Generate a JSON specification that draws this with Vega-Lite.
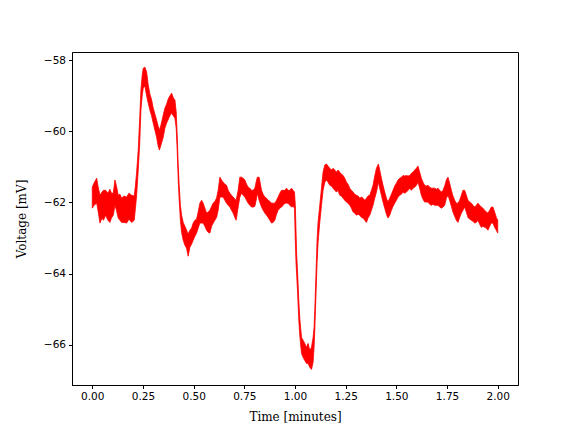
{
  "$schema": "https://vega.github.io/schema/vega-lite/v6.json",
  "width": 446,
  "height": 333,
  "autosize": {"type": "none"},
  "padding": {"left": 72, "top": 52, "right": 58, "bottom": 47},
  "background": "white",
  "config": {
    "view": {"stroke": "black", "strokeWidth": 1},
    "axis": {
      "grid": false,
      "domainColor": "black",
      "tickColor": "black",
      "tickSize": 3.5,
      "labelFont": "DejaVu Sans",
      "labelFontSize": 10.5,
      "labelColor": "black",
      "labelPadding": 3,
      "titleFont": "DejaVu Serif",
      "titleFontSize": 12,
      "titleFontWeight": "normal",
      "titleColor": "black"
    }
  },
  "data": {
    "values": [
      {"t":0.0000,"hi":-61.57,"lo":-62.16},
      {"t":0.0084,"hi":-61.46,"lo":-62.08},
      {"t":0.0217,"hi":-61.32,"lo":-62.02},
      {"t":0.0281,"hi":-61.54,"lo":-62.22},
      {"t":0.0380,"hi":-61.80,"lo":-62.58},
      {"t":0.0478,"hi":-61.71,"lo":-62.44},
      {"t":0.0552,"hi":-61.66,"lo":-62.50},
      {"t":0.0660,"hi":-61.66,"lo":-62.36},
      {"t":0.0774,"hi":-61.74,"lo":-62.50},
      {"t":0.0872,"hi":-61.63,"lo":-62.56},
      {"t":0.0946,"hi":-61.74,"lo":-62.44},
      {"t":0.1035,"hi":-61.74,"lo":-62.36},
      {"t":0.1119,"hi":-61.37,"lo":-62.08},
      {"t":0.1193,"hi":-61.54,"lo":-62.22},
      {"t":0.1281,"hi":-61.80,"lo":-62.44},
      {"t":0.1365,"hi":-61.77,"lo":-62.50},
      {"t":0.1449,"hi":-61.88,"lo":-62.56},
      {"t":0.1562,"hi":-61.82,"lo":-62.56},
      {"t":0.1695,"hi":-61.85,"lo":-62.58},
      {"t":0.1809,"hi":-61.74,"lo":-62.47},
      {"t":0.1942,"hi":-61.80,"lo":-62.56},
      {"t":0.2070,"hi":-61.82,"lo":-62.50},
      {"t":0.2129,"hi":-61.52,"lo":-62.16},
      {"t":0.2188,"hi":-61.15,"lo":-61.80},
      {"t":0.2267,"hi":-60.53,"lo":-61.09},
      {"t":0.2336,"hi":-59.69,"lo":-60.39},
      {"t":0.2400,"hi":-58.84,"lo":-59.41},
      {"t":0.2464,"hi":-58.42,"lo":-58.98},
      {"t":0.2514,"hi":-58.23,"lo":-58.79},
      {"t":0.2597,"hi":-58.20,"lo":-58.73},
      {"t":0.2681,"hi":-58.34,"lo":-59.01},
      {"t":0.2760,"hi":-58.70,"lo":-59.21},
      {"t":0.2844,"hi":-58.96,"lo":-59.41},
      {"t":0.2928,"hi":-59.12,"lo":-59.57},
      {"t":0.3006,"hi":-59.35,"lo":-59.77},
      {"t":0.3090,"hi":-59.52,"lo":-59.97},
      {"t":0.3174,"hi":-59.69,"lo":-60.17},
      {"t":0.3253,"hi":-59.86,"lo":-60.42},
      {"t":0.3312,"hi":-59.97,"lo":-60.53},
      {"t":0.3386,"hi":-59.83,"lo":-60.39},
      {"t":0.3499,"hi":-59.55,"lo":-60.17},
      {"t":0.3583,"hi":-59.35,"lo":-59.91},
      {"t":0.3667,"hi":-59.24,"lo":-59.77},
      {"t":0.3731,"hi":-59.12,"lo":-59.69},
      {"t":0.3795,"hi":-59.04,"lo":-59.60},
      {"t":0.3913,"hi":-58.93,"lo":-59.49},
      {"t":0.4002,"hi":-59.07,"lo":-59.57},
      {"t":0.4076,"hi":-59.12,"lo":-59.63},
      {"t":0.4140,"hi":-59.46,"lo":-59.91},
      {"t":0.4189,"hi":-60.11,"lo":-60.53},
      {"t":0.4239,"hi":-60.95,"lo":-61.37},
      {"t":0.4288,"hi":-61.52,"lo":-61.94},
      {"t":0.4347,"hi":-62.08,"lo":-62.50},
      {"t":0.4406,"hi":-62.36,"lo":-62.84},
      {"t":0.4485,"hi":-62.56,"lo":-63.06},
      {"t":0.4569,"hi":-62.67,"lo":-63.20},
      {"t":0.4653,"hi":-62.78,"lo":-63.29},
      {"t":0.4731,"hi":-62.89,"lo":-63.51},
      {"t":0.4815,"hi":-62.78,"lo":-63.26},
      {"t":0.4899,"hi":-62.72,"lo":-63.17},
      {"t":0.4978,"hi":-62.58,"lo":-63.06},
      {"t":0.5062,"hi":-62.50,"lo":-62.95},
      {"t":0.5145,"hi":-62.47,"lo":-62.86},
      {"t":0.5224,"hi":-62.27,"lo":-62.72},
      {"t":0.5308,"hi":-62.02,"lo":-62.58},
      {"t":0.5392,"hi":-61.94,"lo":-62.58},
      {"t":0.5471,"hi":-62.02,"lo":-62.58},
      {"t":0.5554,"hi":-62.16,"lo":-62.67},
      {"t":0.5638,"hi":-62.30,"lo":-62.78},
      {"t":0.5717,"hi":-62.27,"lo":-62.84},
      {"t":0.5801,"hi":-62.22,"lo":-62.86},
      {"t":0.5885,"hi":-62.11,"lo":-62.67},
      {"t":0.5963,"hi":-62.02,"lo":-62.58},
      {"t":0.6047,"hi":-61.97,"lo":-62.50},
      {"t":0.6131,"hi":-61.88,"lo":-62.42},
      {"t":0.6210,"hi":-61.66,"lo":-62.22},
      {"t":0.6294,"hi":-61.29,"lo":-61.85},
      {"t":0.6377,"hi":-61.37,"lo":-61.85},
      {"t":0.6456,"hi":-61.43,"lo":-61.85},
      {"t":0.6540,"hi":-61.49,"lo":-61.94},
      {"t":0.6624,"hi":-61.52,"lo":-62.02},
      {"t":0.6703,"hi":-61.66,"lo":-62.08},
      {"t":0.6787,"hi":-61.74,"lo":-62.13},
      {"t":0.6870,"hi":-61.80,"lo":-62.22},
      {"t":0.6949,"hi":-61.85,"lo":-62.30},
      {"t":0.7033,"hi":-61.91,"lo":-62.42},
      {"t":0.7097,"hi":-61.94,"lo":-62.50},
      {"t":0.7196,"hi":-61.66,"lo":-62.13},
      {"t":0.7279,"hi":-61.29,"lo":-61.85},
      {"t":0.7363,"hi":-61.29,"lo":-61.74},
      {"t":0.7442,"hi":-61.32,"lo":-61.80},
      {"t":0.7526,"hi":-61.37,"lo":-61.85},
      {"t":0.7610,"hi":-61.49,"lo":-61.94},
      {"t":0.7688,"hi":-61.57,"lo":-62.02},
      {"t":0.7772,"hi":-61.60,"lo":-62.08},
      {"t":0.7856,"hi":-61.66,"lo":-62.13},
      {"t":0.7935,"hi":-61.66,"lo":-62.13},
      {"t":0.8019,"hi":-61.60,"lo":-62.11},
      {"t":0.8083,"hi":-61.43,"lo":-61.94},
      {"t":0.8142,"hi":-61.29,"lo":-61.74},
      {"t":0.8231,"hi":-61.29,"lo":-61.94},
      {"t":0.8349,"hi":-61.66,"lo":-62.13},
      {"t":0.8428,"hi":-61.77,"lo":-62.22},
      {"t":0.8512,"hi":-61.85,"lo":-62.30},
      {"t":0.8595,"hi":-61.88,"lo":-62.36},
      {"t":0.8674,"hi":-61.94,"lo":-62.42},
      {"t":0.8758,"hi":-61.97,"lo":-62.50},
      {"t":0.8842,"hi":-62.02,"lo":-62.58},
      {"t":0.8921,"hi":-62.02,"lo":-62.56},
      {"t":0.9004,"hi":-62.02,"lo":-62.50},
      {"t":0.9088,"hi":-61.94,"lo":-62.33},
      {"t":0.9167,"hi":-61.85,"lo":-62.22},
      {"t":0.9251,"hi":-61.74,"lo":-62.16},
      {"t":0.9335,"hi":-61.66,"lo":-62.13},
      {"t":0.9413,"hi":-61.66,"lo":-62.08},
      {"t":0.9497,"hi":-61.66,"lo":-62.02},
      {"t":0.9581,"hi":-61.60,"lo":-62.02},
      {"t":0.9660,"hi":-61.66,"lo":-62.02},
      {"t":0.9744,"hi":-61.66,"lo":-62.08},
      {"t":0.9828,"hi":-61.60,"lo":-62.13},
      {"t":0.9906,"hi":-61.66,"lo":-62.11},
      {"t":0.9975,"hi":-61.71,"lo":-62.16},
      {"t":1.0015,"hi":-62.08,"lo":-63.06},
      {"t":1.0049,"hi":-62.78,"lo":-63.68},
      {"t":1.0084,"hi":-63.48,"lo":-64.05},
      {"t":1.0123,"hi":-63.91,"lo":-64.47},
      {"t":1.0187,"hi":-64.75,"lo":-65.31},
      {"t":1.0236,"hi":-65.25,"lo":-65.73},
      {"t":1.0320,"hi":-65.79,"lo":-66.24},
      {"t":1.0399,"hi":-65.87,"lo":-66.35},
      {"t":1.0482,"hi":-65.96,"lo":-66.44},
      {"t":1.0566,"hi":-66.07,"lo":-66.52},
      {"t":1.0645,"hi":-65.96,"lo":-66.52},
      {"t":1.0729,"hi":-66.15,"lo":-66.63},
      {"t":1.0813,"hi":-66.07,"lo":-66.69},
      {"t":1.0892,"hi":-65.79,"lo":-66.49},
      {"t":1.0941,"hi":-65.51,"lo":-66.07},
      {"t":1.0976,"hi":-65.03,"lo":-65.59},
      {"t":1.1025,"hi":-64.19,"lo":-64.75},
      {"t":1.1089,"hi":-63.06,"lo":-63.71},
      {"t":1.1138,"hi":-62.56,"lo":-63.12},
      {"t":1.1222,"hi":-62.08,"lo":-62.56},
      {"t":1.1306,"hi":-61.60,"lo":-62.08},
      {"t":1.1385,"hi":-61.15,"lo":-61.66},
      {"t":1.1469,"hi":-60.95,"lo":-61.43},
      {"t":1.1552,"hi":-60.92,"lo":-61.37},
      {"t":1.1631,"hi":-60.98,"lo":-61.43},
      {"t":1.1715,"hi":-61.04,"lo":-61.52},
      {"t":1.1799,"hi":-61.09,"lo":-61.54},
      {"t":1.1878,"hi":-61.04,"lo":-61.60},
      {"t":1.1962,"hi":-61.09,"lo":-61.66},
      {"t":1.2045,"hi":-61.15,"lo":-61.71},
      {"t":1.2124,"hi":-61.09,"lo":-61.66},
      {"t":1.2208,"hi":-61.15,"lo":-61.80},
      {"t":1.2292,"hi":-61.21,"lo":-61.82},
      {"t":1.2371,"hi":-61.24,"lo":-61.88},
      {"t":1.2454,"hi":-61.32,"lo":-61.94},
      {"t":1.2538,"hi":-61.43,"lo":-61.99},
      {"t":1.2617,"hi":-61.49,"lo":-62.02},
      {"t":1.2701,"hi":-61.60,"lo":-62.08},
      {"t":1.2785,"hi":-61.66,"lo":-62.16},
      {"t":1.2864,"hi":-61.71,"lo":-62.27},
      {"t":1.2947,"hi":-61.77,"lo":-62.30},
      {"t":1.3031,"hi":-61.80,"lo":-62.36},
      {"t":1.3110,"hi":-61.82,"lo":-62.33},
      {"t":1.3194,"hi":-61.88,"lo":-62.36},
      {"t":1.3278,"hi":-61.85,"lo":-62.42},
      {"t":1.3356,"hi":-61.88,"lo":-62.44},
      {"t":1.3440,"hi":-61.94,"lo":-62.50},
      {"t":1.3524,"hi":-61.88,"lo":-62.56},
      {"t":1.3603,"hi":-61.82,"lo":-62.44},
      {"t":1.3687,"hi":-61.80,"lo":-62.36},
      {"t":1.3770,"hi":-61.66,"lo":-62.22},
      {"t":1.3849,"hi":-61.52,"lo":-62.08},
      {"t":1.3933,"hi":-61.26,"lo":-61.88},
      {"t":1.4017,"hi":-61.04,"lo":-61.71},
      {"t":1.4115,"hi":-60.92,"lo":-61.43},
      {"t":1.4179,"hi":-61.09,"lo":-61.60},
      {"t":1.4263,"hi":-61.32,"lo":-61.80},
      {"t":1.4342,"hi":-61.52,"lo":-61.99},
      {"t":1.4426,"hi":-61.71,"lo":-62.16},
      {"t":1.4510,"hi":-61.88,"lo":-62.33},
      {"t":1.4589,"hi":-61.99,"lo":-62.44},
      {"t":1.4672,"hi":-61.88,"lo":-62.36},
      {"t":1.4756,"hi":-61.77,"lo":-62.22},
      {"t":1.4835,"hi":-61.66,"lo":-62.11},
      {"t":1.4919,"hi":-61.54,"lo":-62.02},
      {"t":1.5002,"hi":-61.46,"lo":-61.94},
      {"t":1.5081,"hi":-61.37,"lo":-61.85},
      {"t":1.5165,"hi":-61.32,"lo":-61.80},
      {"t":1.5249,"hi":-61.29,"lo":-61.77},
      {"t":1.5328,"hi":-61.24,"lo":-61.71},
      {"t":1.5411,"hi":-61.26,"lo":-61.74},
      {"t":1.5495,"hi":-61.24,"lo":-61.71},
      {"t":1.5574,"hi":-61.26,"lo":-61.66},
      {"t":1.5658,"hi":-61.24,"lo":-61.60},
      {"t":1.5742,"hi":-61.18,"lo":-61.66},
      {"t":1.5821,"hi":-61.15,"lo":-61.60},
      {"t":1.5904,"hi":-61.09,"lo":-61.57},
      {"t":1.5988,"hi":-61.04,"lo":-61.52},
      {"t":1.6067,"hi":-60.98,"lo":-61.43},
      {"t":1.6151,"hi":-61.15,"lo":-61.60},
      {"t":1.6234,"hi":-61.32,"lo":-61.80},
      {"t":1.6313,"hi":-61.43,"lo":-61.91},
      {"t":1.6397,"hi":-61.52,"lo":-61.99},
      {"t":1.6481,"hi":-61.54,"lo":-61.99},
      {"t":1.6560,"hi":-61.52,"lo":-61.99},
      {"t":1.6644,"hi":-61.57,"lo":-62.05},
      {"t":1.6727,"hi":-61.60,"lo":-62.08},
      {"t":1.6806,"hi":-61.60,"lo":-62.05},
      {"t":1.6890,"hi":-61.60,"lo":-62.08},
      {"t":1.6974,"hi":-61.63,"lo":-62.08},
      {"t":1.7053,"hi":-61.60,"lo":-62.08},
      {"t":1.7136,"hi":-61.66,"lo":-62.13},
      {"t":1.7220,"hi":-61.71,"lo":-62.16},
      {"t":1.7299,"hi":-61.66,"lo":-62.13},
      {"t":1.7383,"hi":-61.54,"lo":-62.08},
      {"t":1.7467,"hi":-61.37,"lo":-61.88},
      {"t":1.7546,"hi":-61.29,"lo":-61.80},
      {"t":1.7629,"hi":-61.46,"lo":-61.94},
      {"t":1.7713,"hi":-61.66,"lo":-62.11},
      {"t":1.7792,"hi":-61.82,"lo":-62.27},
      {"t":1.7876,"hi":-61.94,"lo":-62.39},
      {"t":1.7960,"hi":-62.02,"lo":-62.50},
      {"t":1.8039,"hi":-62.02,"lo":-62.56},
      {"t":1.8122,"hi":-61.94,"lo":-62.42},
      {"t":1.8206,"hi":-61.80,"lo":-62.30},
      {"t":1.8285,"hi":-61.66,"lo":-62.22},
      {"t":1.8369,"hi":-61.66,"lo":-62.13},
      {"t":1.8453,"hi":-61.80,"lo":-62.27},
      {"t":1.8532,"hi":-61.94,"lo":-62.42},
      {"t":1.8615,"hi":-61.99,"lo":-62.47},
      {"t":1.8699,"hi":-62.02,"lo":-62.50},
      {"t":1.8778,"hi":-62.08,"lo":-62.53},
      {"t":1.8862,"hi":-62.13,"lo":-62.58},
      {"t":1.8945,"hi":-62.08,"lo":-62.56},
      {"t":1.9024,"hi":-62.02,"lo":-62.50},
      {"t":1.9108,"hi":-62.08,"lo":-62.61},
      {"t":1.9192,"hi":-62.13,"lo":-62.70},
      {"t":1.9271,"hi":-62.16,"lo":-62.67},
      {"t":1.9354,"hi":-62.22,"lo":-62.70},
      {"t":1.9438,"hi":-62.27,"lo":-62.72},
      {"t":1.9517,"hi":-62.30,"lo":-62.78},
      {"t":1.9601,"hi":-62.22,"lo":-62.67},
      {"t":1.9685,"hi":-62.13,"lo":-62.58},
      {"t":1.9764,"hi":-62.13,"lo":-62.58},
      {"t":1.9847,"hi":-62.27,"lo":-62.70},
      {"t":1.9931,"hi":-62.42,"lo":-62.78},
      {"t":2.0000,"hi":-62.50,"lo":-62.86}
    ]
  },
  "mark": {"type": "area", "color": "#ff0000", "stroke": "#ff0000", "strokeWidth": 0.8, "opacity": 1},
  "encoding": {
    "x": {
      "field": "t",
      "type": "quantitative",
      "scale": {"domain": [-0.1, 2.1], "nice": false, "zero": false},
      "axis": {"values": [0, 0.25, 0.5, 0.75, 1.0, 1.25, 1.5, 1.75, 2.0], "format": ".2f", "title": "Time [minutes]", "titlePadding": 9}
    },
    "y": {
      "field": "hi",
      "type": "quantitative",
      "scale": {"domain": [-67.127, -57.775], "nice": false, "zero": false},
      "axis": {"values": [-58, -60, -62, -64, -66], "format": "d", "title": "Voltage [mV]", "titlePadding": 15}
    },
    "y2": {"field": "lo"}
  }
}
